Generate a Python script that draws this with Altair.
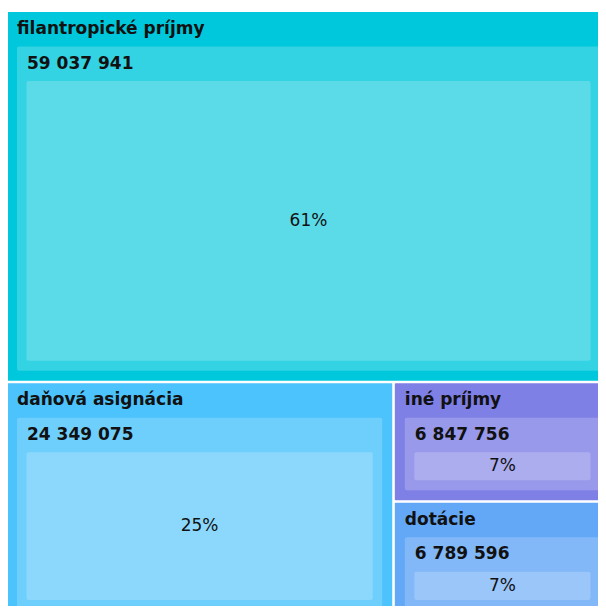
import altair as alt
import pandas as pd

# ---- data ----
categories = ["filantropické príjmy", "daňová asignácia", "iné príjmy", "dotácie"]
values = [59037941, 24349075, 6847756, 6789596]
colors = ["#00C8DC", "#4CC3FC", "#7F80E6", "#63A7F7"]

# ---- treemap layout (squarified), in pixel-like data units ----
W, H = 603.0, 608.0
GAP = 1.3


def squarify(vals, x, y, w, h):
    total = sum(vals)
    scale = w * h / total
    areas = [v * scale for v in vals]
    rects = []

    def worst(row, side):
        s = sum(row)
        return max(max(side * side * r / (s * s), s * s / (side * side * r)) for r in row)

    i = 0
    while i < len(areas):
        side = min(w, h)
        row = [areas[i]]
        i += 1
        while i < len(areas) and worst(row + [areas[i]], side) <= worst(row, side):
            row.append(areas[i])
            i += 1
        s = sum(row)
        if w <= h:
            rh = s / w
            cx = x
            for a in row:
                rw = a / rh
                rects.append((cx, y, cx + rw, y + rh))
                cx += rw
            y += rh
            h -= rh
        else:
            rw = s / h
            cy = y
            for a in row:
                rr = a / rw
                rects.append((x, cy, x + rw, cy + rr))
                cy += rr
            x += rw
            w -= rw
    return rects


rects = squarify(values, 0.0, 0.0, W, H)
total = sum(values)
rows = []
for cat, val, (x0, y0, x1, y1) in zip(categories, values, rects):
    x0 = x0 + (GAP if x0 > 0.5 else 0)
    y0 = y0 + (GAP if y0 > 0.5 else 0)
    x1 = x1 - (GAP if x1 < W - 0.5 else 0)
    y1 = y1 - (GAP if y1 < H - 0.5 else 0)
    ix0, iy0, ix1, iy1 = x0 + 10, y0 + 34.5, x1 - 10, y1 - 10
    jx0, jy0, jx1, jy1 = ix0 + 9.5, iy0 + 34.5, ix1 - 9.5, iy1 - 10
    rows.append(dict(
        cat=cat,
        x0=x0, y0=y0, x1=x1, y1=y1,
        ix0=ix0, iy0=iy0, ix1=ix1, iy1=iy1,
        jx0=jx0, jy0=jy0, jx1=jx1, jy1=jy1,
        jxc=(jx0 + jx1) / 2, jyc=(jy0 + jy1) / 2,
        val_label=f"{val:,}".replace(",", " "),
        pct_label=f"{round(val / total * 100)}%",
    ))
df = pd.DataFrame(rows)

FONT = "DejaVu Sans"
PW, PH = 590, 594
xs = alt.Scale(domain=[1, 1 + PW], nice=False, zero=False)
ys = alt.Scale(domain=[0, PH], nice=False, zero=False, reverse=True)


def X(f):
    return alt.X(f, type="quantitative", scale=xs, axis=None)


def Y(f):
    return alt.Y(f, type="quantitative", scale=ys, axis=None)


base = alt.Chart(df)

outer = base.mark_rect(clip=True, cornerRadius=1).encode(
    x=X("x0"), x2="x1", y=Y("y0"), y2="y1",
    color=alt.Color("cat:N", scale=alt.Scale(domain=categories, range=colors), legend=None),
)
inner = base.mark_rect(clip=True, color="white", opacity=0.2, cornerRadius=2).encode(
    x=X("ix0"), x2="ix1", y=Y("iy0"), y2="iy1",
)
innermost = base.mark_rect(clip=True, color="white", opacity=0.2, cornerRadius=2).encode(
    x=X("jx0"), x2="jx1", y=Y("jy0"), y2="jy1",
)
header = base.mark_text(
    clip=True, align="left", baseline="middle", dx=10, dy=17,
    font=FONT, fontSize=17, fontWeight="bold", color="#111111",
).encode(x=X("x0"), y=Y("y0"), text="cat:N")
value_txt = base.mark_text(
    clip=True, align="left", baseline="middle", dx=10, dy=17,
    font=FONT, fontSize=17, fontWeight="bold", color="#111111",
).encode(x=X("ix0"), y=Y("iy0"), text="val_label:N")
pct_txt = base.mark_text(
    clip=True, align="center", baseline="middle",
    font=FONT, fontSize=17, fontWeight="normal", color="#111111",
).encode(x=X("jxc"), y=Y("jyc"), text="pct_label:N")

chart = alt.layer(outer, inner, innermost, header, value_txt, pct_txt).properties(
    width=PW, height=PH,
    padding={"left": 0, "top": 4, "right": 0, "bottom": 0},
).configure_view(stroke=None)

chart.save("out.html", embed_options={"renderer": "svg", "actions": False})
